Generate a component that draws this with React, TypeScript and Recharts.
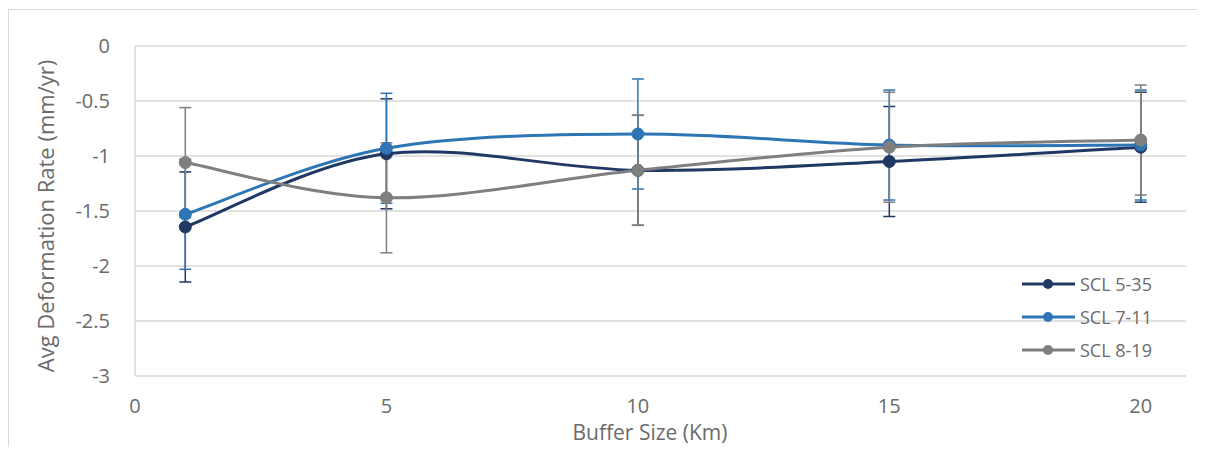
import { ComposedChart, Line, ErrorBar, XAxis, YAxis, CartesianGrid, Legend } from 'recharts';

// Buffer sizes (km) on the x axis
const BUFFER_SIZES = [1, 5, 10, 15, 20];

// Average deformation rate (mm/yr) per series
const SCL_5_35 = [-1.645, -0.98, -1.13, -1.05, -0.92];
const SCL_7_11 = [-1.53, -0.93, -0.8, -0.9, -0.9];
const SCL_8_19 = [-1.06, -1.38, -1.13, -0.92, -0.855];

// Error bar half-lengths (mm/yr)
const SCL_5_35_ERR = [0.5, 0.5, 0.5, 0.5, 0.5];
const SCL_7_11_ERR = [0.5, 0.5, 0.5, 0.5, 0.5];
const SCL_8_19_ERR = [0.5, 0.5, 0.5, 0.5, 0.5];

const X_TICKS = [0, 5, 10, 15, 20];
const Y_TICKS = [-3, -2.5, -2, -1.5, -1, -0.5, 0];

const SERIES = [
    { key: 'a', err: 'aErr', name: 'SCL 5-35', color: '#203864', values: SCL_5_35, errors: SCL_5_35_ERR },
    { key: 'b', err: 'bErr', name: 'SCL 7-11', color: '#2e75b6', values: SCL_7_11, errors: SCL_7_11_ERR },
    { key: 'c', err: 'cErr', name: 'SCL 8-19', color: '#7f7f7f', values: SCL_8_19, errors: SCL_8_19_ERR },
];

const rows = BUFFER_SIZES.map((x, i) => {
    const row: Record<string, number> = { x };
    SERIES.forEach(s => {
        row[s.key] = s.values[i];
        row[s.err] = s.errors[i];
    });
    return row;
});

const FONT = '"Open Sans", sans-serif';
const TEXT_COLOR = '#6b6b6b';
const GRID_COLOR = '#d9d9d9';

// Excel-like smoothed line (Catmull-Rom converted to bezier segments)
const excelSmooth = (context: any) => {
    let pts: [number, number][] = [];
    return {
        areaStart() {},
        areaEnd() {},
        lineStart() {
            pts = [];
        },
        point(x: number, y: number) {
            pts.push([+x, +y]);
        },
        lineEnd() {
            const n = pts.length;
            if (!n) return;
            context.moveTo(pts[0][0], pts[0][1]);
            for (let i = 0; i < n - 1; i++) {
                const p0 = pts[Math.max(0, i - 1)];
                const p1 = pts[i];
                const p2 = pts[i + 1];
                const p3 = pts[Math.min(n - 1, i + 2)];
                context.bezierCurveTo(
                    p1[0] + (p2[0] - p0[0]) / 6,
                    p1[1] + (p2[1] - p0[1]) / 6,
                    p2[0] - (p3[0] - p1[0]) / 6,
                    p2[1] - (p3[1] - p1[1]) / 6,
                    p2[0],
                    p2[1]
                );
            }
        },
    };
};

const LegendBox = () => (
    <svg width={175} height={100}>
        {SERIES.map((s, i) => {
            const cy = 16 + i * 33;
            return (
                <g key={s.key}>
                    <line x1={0} x2={53} y1={cy} y2={cy} stroke={s.color} strokeWidth={3} />
                    <circle cx={26} cy={cy} r={5} fill={s.color} />
                    <text x={58} y={cy} dominantBaseline="central" fontSize={18} fill={TEXT_COLOR} fontFamily={FONT}>
                        {s.name}
                    </text>
                </g>
            );
        })}
    </svg>
);

export default function App() {
    return (
        <div style={{ position: 'relative', width: 1189, height: 439, fontFamily: FONT }}>
            <div
                style={{
                    position: 'absolute',
                    left: 0,
                    top: 1,
                    width: 1189,
                    height: 438,
                    boxSizing: 'border-box',
                    borderTop: `1px solid ${GRID_COLOR}`,
                    borderLeft: `1px solid ${GRID_COLOR}`,
                    pointerEvents: 'none',
                }}
            />
            <ComposedChart width={1189} height={439} data={rows} margin={{ top: 38, right: 11, left: 0, bottom: 0 }}>
                <CartesianGrid vertical={false} stroke={GRID_COLOR} strokeWidth={1.5} />
                <XAxis
                    type="number"
                    dataKey="x"
                    domain={[0, 20.9]}
                    ticks={X_TICKS}
                    axisLine={false}
                    tickLine={false}
                    tickSize={0}
                    tickMargin={23}
                    height={71}
                    tick={{ fill: TEXT_COLOR, fontSize: 20, fontFamily: FONT }}
                />
                <YAxis
                    type="number"
                    domain={[-3, 0]}
                    ticks={Y_TICKS}
                    width={127}
                    axisLine={{ stroke: GRID_COLOR, strokeWidth: 1.5 }}
                    tickLine={false}
                    tickSize={0}
                    tickMargin={25}
                    tick={{ fill: TEXT_COLOR, fontSize: 20, fontFamily: FONT }}
                />
                <Legend
                    layout="horizontal"
                    verticalAlign="middle"
                    align="center"
                    content={<LegendBox />}
                    wrapperStyle={{ left: 1014, top: 260, width: 175, height: 100 }}
                />
                {SERIES.map(s => (
                    <Line
                        key={s.key}
                        dataKey={s.key}
                        name={s.name}
                        type={excelSmooth as any}
                        stroke={s.color}
                        strokeWidth={3}
                        dot={{ r: 6, fill: s.color, stroke: s.color, strokeWidth: 1 }}
                        activeDot={false}
                        isAnimationActive={false}
                    >
                        <ErrorBar
                            dataKey={s.err}
                            direction="y"
                            width={6}
                            stroke={s.color}
                            strokeWidth={1.5}
                            isAnimationActive={false}
                        />
                    </Line>
                ))}
                <text
                    x={37}
                    y={208}
                    transform="rotate(-90 37 208)"
                    textAnchor="middle"
                    dominantBaseline="central"
                    fontSize={22}
                    fill={TEXT_COLOR}
                    fontFamily={FONT}
                >
                    Avg Deformation Rate (mm/yr)
                </text>
                <text x={642} y={432} textAnchor="middle" fontSize={21} fill={TEXT_COLOR} fontFamily={FONT}>
                    Buffer Size (Km)
                </text>
            </ComposedChart>
        </div>
    );
}
